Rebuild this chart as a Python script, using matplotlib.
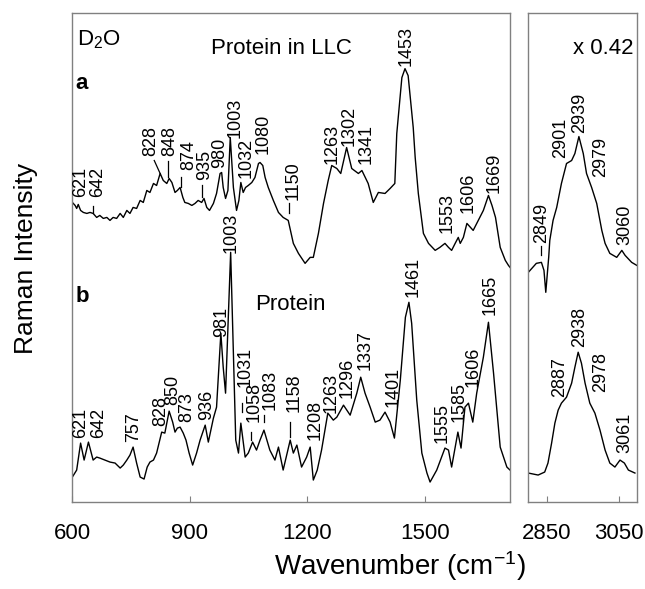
import matplotlib
matplotlib.use("Agg")
from matplotlib import pyplot as plt

plt.rcParams['font.family'] = ['Liberation Sans', 'DejaVu Sans']
plt.rcParams['mathtext.fontset'] = 'custom'
plt.rcParams['mathtext.rm'] = 'Liberation Sans'
plt.rcParams['mathtext.it'] = 'Liberation Sans'

# spectrum a: protein in LLC (D2O), 600-1720 region
wn_a = [600, 607, 611, 615, 621, 628, 637, 645, 653, 662, 670, 679, 688, 696, 704, 713,
        722, 730, 739, 747, 755, 764, 773, 781, 790, 798, 807, 815, 824, 832, 841, 847,
        854, 862, 868, 875, 882, 887, 896, 905, 913, 921, 930, 936, 943, 950, 960, 968,
        977, 981, 985, 991, 997, 1003, 1011, 1019, 1025, 1030, 1036, 1042, 1049, 1058,
        1066, 1075, 1079, 1086, 1092, 1100, 1113, 1126, 1138, 1151, 1164, 1177, 1194,
        1207, 1215, 1228, 1241, 1253, 1262, 1275, 1285, 1300, 1313, 1330, 1339, 1355,
        1368, 1381, 1398, 1411, 1423, 1428, 1441, 1449, 1457, 1470, 1475, 1483, 1496,
        1509, 1526, 1538, 1551, 1560, 1568, 1577, 1585, 1590, 1598, 1607, 1623, 1636,
        1649, 1662, 1671, 1680, 1692, 1705, 1713, 1717]
int_a = [300, 297, 294, 298, 292, 290, 289, 290, 289, 285, 287, 284, 285, 282, 285, 284,
         289, 285, 292, 289, 295, 294, 302, 300, 312, 310, 319, 317, 329, 322, 319, 324,
         320, 310, 312, 315, 305, 300, 299, 297, 299, 302, 300, 304, 295, 292, 299, 309,
         329, 330, 315, 304, 312, 365, 315, 292, 302, 320, 310, 315, 317, 320,
         325, 339, 340, 337, 325, 315, 302, 290, 285, 282, 259, 249, 239,
         245, 245, 269, 299, 322, 337, 334, 329, 355, 334, 329, 332, 319,
         300, 310, 309, 314, 319, 369, 425, 434, 427, 375, 345, 309, 269,
         259, 252, 255, 259, 255, 252, 259, 265, 259, 265, 279, 272, 282,
         292, 307, 297, 285, 255, 242, 237, 235]

# spectrum b: protein (D2O)
wn_b = [600, 611, 621, 630, 641, 653, 662, 670, 683, 696, 709, 722, 730, 739, 747, 755,
        764, 773, 783, 791, 798, 807, 815, 828, 836, 847, 856, 862, 868, 875, 883, 890,
        898, 907, 917, 926, 939, 947, 960, 968, 979, 985, 991, 1004, 1017, 1024, 1030,
        1041, 1049, 1060, 1070, 1079, 1089, 1104, 1117, 1126, 1138, 1156, 1164, 1173,
        1185, 1198, 1207, 1215, 1225, 1236, 1252, 1266, 1275, 1292, 1309, 1326, 1336,
        1347, 1360, 1373, 1385, 1398, 1411, 1422, 1437, 1450, 1459, 1466, 1479, 1492,
        1505, 1513, 1530, 1551, 1560, 1568, 1584, 1592, 1602, 1611, 1622, 1632, 1649,
        1662, 1675, 1692, 1709, 1717]
int_b = [25, 32, 59, 42, 60, 42, 45, 44, 42, 40, 39, 34, 37, 42, 47, 55,
         39, 25, 23, 35, 40, 42, 49, 70, 69, 91, 80, 70, 74, 75, 69, 62,
         49, 37, 49, 62, 77, 60, 84, 95, 169, 135, 109, 250, 62, 49, 79,
         45, 49, 60, 52, 62, 72, 52, 42, 55, 32, 62, 49, 57,
         35, 45, 55, 22, 32, 52, 89, 82, 85, 97, 87, 109, 125,
         109, 95, 80, 82, 90, 80, 64, 122, 185, 200, 179, 102, 49,
         29, 20, 32, 54, 52, 35, 70, 54, 95, 99, 80, 109, 145,
         180, 129, 55, 35, 32]

# C-H stretching region (x 0.42)
wn_ar = [2800, 2822, 2836, 2843, 2848, 2853, 2856, 2859, 2868, 2878, 2891, 2905, 2919,
         2928, 2939, 2951, 2960, 2974, 2988, 3002, 3011, 3024, 3043, 3057, 3066, 3084, 3098]
int_ar = [230, 239, 240, 232, 210, 232, 245, 262, 282, 295, 319, 339, 342,
          349, 366, 349, 329, 315, 299, 272, 259, 249, 245, 252, 247, 240, 237]
wn_br = [2800, 2827, 2845, 2854, 2864, 2873, 2882, 2891, 2905, 2919, 2928, 2937, 2946,
         2956, 2969, 2983, 2997, 3011, 3024, 3038, 3052, 3064, 3075, 3093]
int_br = [29, 27, 30, 39, 59, 79, 92, 99, 105, 119, 135, 150, 139,
          119, 99, 89, 72, 52, 39, 35, 42, 39, 32, 29]

# peak labels: text, x, y(bottom of text)
labels_left = [("621", 621, 305), ("642", 664, 305), ("828", 800, 347), ("848", 849, 347),
               ("874", 896, 332), ("935", 938, 322), ("980", 975, 334), ("1003", 1016, 365),
               ("1032", 1044, 324), ("1080", 1088, 349), ("1150", 1164, 302),
               ("1263", 1264, 339), ("1302", 1307, 357), ("1341", 1351, 339),
               ("1453", 1453, 437), ("1553", 1556, 269), ("1606", 1611, 289),
               ("1669", 1676, 309),
               ("621", 621, 64), ("642", 666, 64), ("757", 757, 60), ("828", 825, 76),
               ("850", 855, 97), ("873", 892, 80), ("936", 943, 82), ("981", 980, 165),
               ("1003", 1005, 249), ("1031", 1041, 115), ("1058", 1064, 80),
               ("1083", 1106, 92), ("1158", 1166, 90), ("1208", 1219, 62),
               ("1263", 1260, 89), ("1296", 1302, 104), ("1337", 1347, 132),
               ("1401", 1418, 95), ("1461", 1469, 205), ("1555", 1543, 59),
               ("1585", 1588, 80), ("1606", 1622, 115), ("1665", 1665, 187)]
labels_right = [("2849", 2836, 259), ("2901", 2889, 345), ("2939", 2942, 370),
                ("2979", 3000, 325), ("3060", 3066, 257),
                ("2887", 2887, 105), ("2938", 2942, 155), ("2978", 3000, 110),
                ("3061", 3066, 49)]
# short marker lines: x0, y0, x1, y1
marks_left = [(653, 289, 653, 296), (809, 342, 824, 329), (845, 325, 845, 342),
              (877, 315, 877, 325), (932, 305, 932, 317), (1154, 289, 1154, 299),
              (1032, 90, 1032, 99), (1056, 62, 1056, 70), (1090, 80, 1090, 87),
              (1155, 65, 1155, 80)]
marks_right = [(2836, 247, 2836, 256)]

fig = plt.figure(figsize=(6.45, 5.89), dpi=100)
ax1 = fig.add_axes([0.1122, 0.1477, 0.6785, 0.8307])
ax2 = fig.add_axes([0.8191, 0.1477, 0.1681, 0.8307])

ax1.plot(wn_a, int_a, color='black', linewidth=1)
ax1.plot(wn_b, int_b, color='black', linewidth=1)
ax2.plot(wn_ar, int_ar, color='black', linewidth=1)
ax2.plot(wn_br, int_br, color='black', linewidth=1)

for t, x, y in labels_left:
    ax1.text(x, y, t, rotation=90, ha='center', va='bottom', fontsize=13)
for t, x, y in labels_right:
    ax2.text(x, y, t, rotation=90, ha='center', va='bottom', fontsize=13)
for x0, y0, x1, y1 in marks_left:
    ax1.plot([x0, x1], [y0, y1], color='black', linewidth=0.9)
for x0, y0, x1, y1 in marks_right:
    ax2.plot([x0, x1], [y0, y1], color='black', linewidth=0.9)

ax1.set_xlim(600, 1717)
ax2.set_xlim(2800, 3098)
for ax in (ax1, ax2):
    ax.set_ylim(0, 490)
    ax.set_yticks([])
    for s in ax.spines.values():
        s.set_color('#808080')
        s.set_linewidth(1)
    ax.tick_params(axis='x', direction='in', length=4, color='#808080',
                   labelsize=16, pad=15)
ax1.set_xticks([600, 900, 1200, 1500])
ax2.set_xticks([2850, 3050])

ax1.text(0.011, 0.933, 'D$_2$O', transform=ax1.transAxes, fontsize=16, va='baseline')
ax1.text(0.317, 0.916, 'Protein in LLC', transform=ax1.transAxes, fontsize=16, va='baseline')
ax1.text(0.008, 0.845, 'a', transform=ax1.transAxes, fontsize=16, fontweight='bold',
         va='baseline')
ax1.text(0.008, 0.409, 'b', transform=ax1.transAxes, fontsize=16, fontweight='bold',
         va='baseline')
ax1.text(0.417, 0.392, 'Protein', transform=ax1.transAxes, fontsize=16, va='baseline')
ax2.text(0.969, 0.916, 'x 0.42', transform=ax2.transAxes, fontsize=16, va='baseline',
         ha='right')

fig.text(0.040, 0.562, 'Raman Intensity', rotation=90, fontsize=19, ha='center', va='center')
fig.text(0.62, 0.024, 'Wavenumber (cm$^{-1}$)', fontsize=20, ha='center', va='baseline')

fig.savefig('out.png', dpi=100)
